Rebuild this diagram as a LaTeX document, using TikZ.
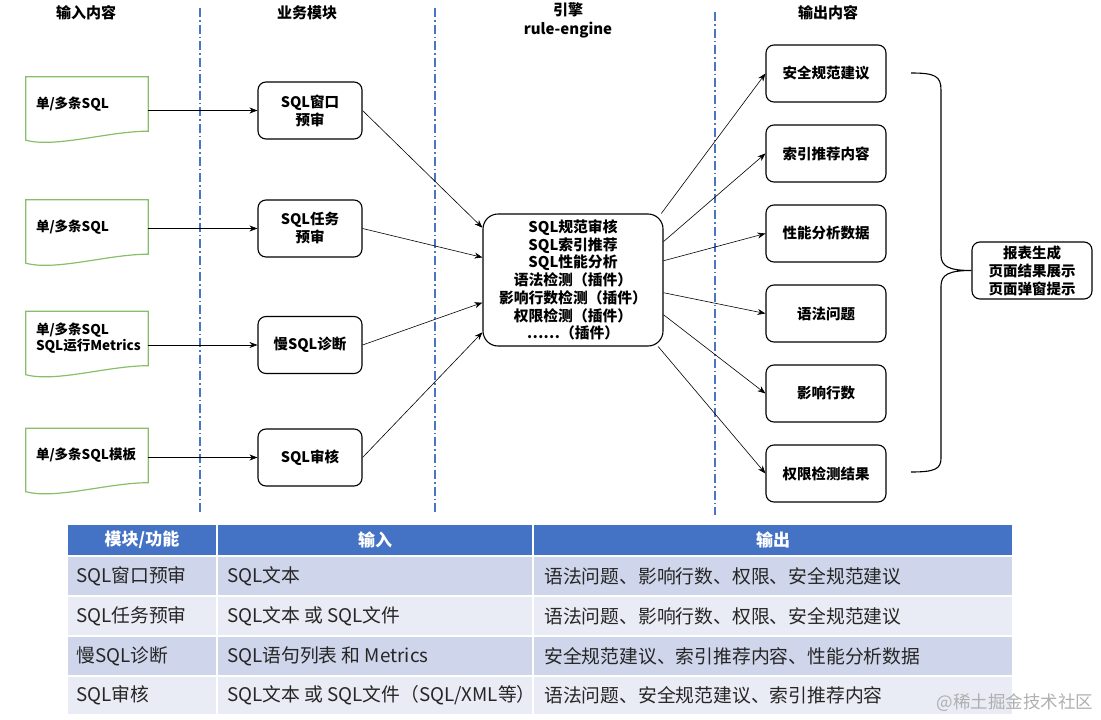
\documentclass[tikz,border=0pt]{standalone}
\usepackage{fontspec}
\setmainfont{Noto Sans CJK SC}
\usetikzlibrary{arrows.meta,positioning}
\definecolor{sepblue}{RGB}{74,116,196}
\definecolor{docgreen}{RGB}{136,190,104}
\definecolor{headblue}{RGB}{68,114,196}
\definecolor{rowdark}{RGB}{207,213,234}
\definecolor{rowlight}{RGB}{233,235,245}
\definecolor{wmgray}{RGB}{175,175,175}

\begin{document}
\begin{tikzpicture}[x=1pt,y=-1pt,node distance=80pt]
			\tikzstyle{block} = [rectangle, draw=black, line width=1.1pt, rounded corners=8pt, minimum width=104pt, minimum height=57pt, align=center, font=\fontsize{14.5}{18}\selectfont\bfseries];
			\tikzstyle{outblock} = [block, minimum width=120pt];
			\tikzstyle{doc} = [rectangle, text width=102pt, inner xsep=10pt, minimum height=54pt, align=left, font=\fontsize{13.5}{16}\selectfont\bfseries];
			\tikzstyle{docline} = [draw=docgreen, line width=1.2pt];
			\tikzstyle{flow} = [draw=black, line width=0.6pt, -{Stealth[length=8pt,width=6pt]}];
			\tikzstyle{sep} = [draw=sepblue, line width=1.5pt, dash pattern=on 9pt off 3pt on 1.5pt off 3pt];
			\tikzstyle{head} = [font=\fontsize{15}{18}\selectfont\bfseries];
			\tikzstyle{cell} = [draw=white, line width=1.5pt];
			\tikzstyle{thead} = [text=white, font=\fontsize{17}{20}\selectfont\bfseries];
			\tikzstyle{tbody} = [anchor=west, inner sep=0pt, text=black!85, font=\fontsize{18.8}{20}\selectfont];
			\useasboundingbox (0,0) rectangle (1101,720);

			% column titles and separators
			\draw node [head] (h1) at (86,13) {输入内容};
			\draw node [head] (h2) at (307,13) {业务模块};
			\draw node [head] (h3) at (568,10) {引擎};
			\draw node [head] (h4) at (568,30) {rule-engine};
			\draw node [head] (h5) at (828,13) {输出内容};
			\draw [sep] (200,8) -- (200,515);
			\draw [sep] (435,8) -- (435,515);
			\draw [sep] (715,12) -- (715,515);

			% inputs
			\draw node [doc] (in1) at (87,104) {单/多条SQL};
			\draw node [doc] (in2) at (87,227) {单/多条SQL};
			\draw node [doc] (in3) at (87,338.5) {单/多条SQL\\SQL运行Metrics};
			\draw node [doc] (in4) at (87,455.5) {单/多条SQL模板};
			\foreach \d in {in1,in2,in3,in4}
				\draw [docline] (\d.north west) -- (\d.north east) -- (\d.south east) .. controls +(-40,0) and +(30,8) .. ([yshift=-9pt]\d.south west) -- cycle;

			% modules
			\draw node [block] (mod1) at (310,110.5) {SQL窗口\\预审};
			\draw node [block] (mod2) at (310,228.5) {SQL任务\\预审};
			\draw node [block] (mod3) at (310,345) {慢SQL诊断};
			\draw node [block] (mod4) at (310,457.5) {SQL审核};

			% engine
			\draw node [block, minimum width=180pt, minimum height=132pt, rounded corners=15pt, font=\fontsize{14.8}{17.7}\selectfont\bfseries] (eng) at (573,280) {SQL规范审核\\SQL索引推荐\\SQL性能分析\\语法检测（插件）\\影响行数检测（插件）\\权限检测（插件）\\……（插件）};

			% outputs
			\draw node [outblock] (out1) at (826,73.5) {安全规范建议};
			\draw node [outblock, below of=out1] (out2) {索引推荐内容};
			\draw node [outblock, below of=out2] (out3) {性能分析数据};
			\draw node [outblock, below of=out3] (out4) {语法问题};
			\draw node [outblock, below of=out4] (out5) {影响行数};
			\draw node [outblock, below of=out5] (out6) {权限检测结果};
			\draw node [outblock] (rep) at (1032,270.5) {报表生成\\页面结果展示\\页面弹窗提示};

			\draw [flow] (in1.east |- mod1.west) -- (mod1.west);
			\draw [flow] (in2.east |- mod2.west) -- (mod2.west);
			\draw [flow] (in3.east |- mod3.west) -- (mod3.west);
			\draw [flow] (in4.east |- mod4.west) -- (mod4.west);
			\draw [flow] (mod1.east) -- (eng.150);
			\draw [flow] (mod2.east) -- (eng.166);
			\draw [flow] (mod3.east) -- (eng.194);
			\draw [flow] (mod4.east) -- (eng.210);
			\draw [flow] (eng.37) -- (out1.west);
			\draw [flow] (eng.23) -- (out2.west);
			\draw [flow] (eng.12) -- (out3.west);
			\draw [flow] (eng.-8) -- (out4.west);
			\draw [flow] (eng.-21) -- (out5.west);
			\draw [flow] (eng.-38) -- (out6.west);

			% brace to the report
			\draw [line width=1.1pt] (911,73) .. controls (935,73) and (941,76) .. (941,90) -- (941,255) .. controls (941,267) and (950,270.5) .. (rep.west) .. controls (950,270.5) and (941,274) .. (941,286) -- (941,458) .. controls (941,469) and (935,472) .. (911,472);

			% table
			\path [cell, fill=headblue] (67,524) rectangle (217,556);
			\path [cell, fill=headblue] (217,524) rectangle (533,556);
			\path [cell, fill=headblue] (533,524) rectangle (1013,556);
			\draw node [thead] (t1) at (142,540) {模块/功能};
			\draw node [thead] (t2) at (375,540) {输入};
			\draw node [thead] (t3) at (773,540) {输出};
			\foreach \r/\ya/\yb/\fc/\ta/\tb/\tc in {
				1/556/596/rowdark/{SQL窗口预审}/{SQL文本}/{语法问题、影响行数、权限、安全规范建议},
				2/596/636/rowlight/{SQL任务预审}/{SQL文本 或 SQL文件}/{语法问题、影响行数、权限、安全规范建议},
				3/636/676/rowdark/{慢SQL诊断}/{SQL语句列表 和 Metrics}/{安全规范建议、索引推荐内容、性能分析数据},
				4/676/715/rowlight/{SQL审核}/{SQL文本 或 SQL文件（SQL/XML等）}/{语法问题、安全规范建议、索引推荐内容}}{
				\path [cell, fill=\fc] (67,\ya) rectangle (217,\yb);
				\path [cell, fill=\fc] (217,\ya) rectangle (533,\yb);
				\path [cell, fill=\fc] (533,\ya) rectangle (1013,\yb);
				\draw node [tbody] (r\r a) at (76,{(\ya+\yb)/2}) {\ta};
				\draw node [tbody] (r\r b) at (227,{(\ya+\yb)/2}) {\tb};
				\draw node [tbody] (r\r c) at (544,{(\ya+\yb)/2}) {\tc};
			}
			\draw node [text=wmgray, font=\fontsize{17.5}{20}\selectfont, anchor=east] (wm) at (1097,703) {@稀土掘金技术社区};
		\end{tikzpicture}
\end{document}
